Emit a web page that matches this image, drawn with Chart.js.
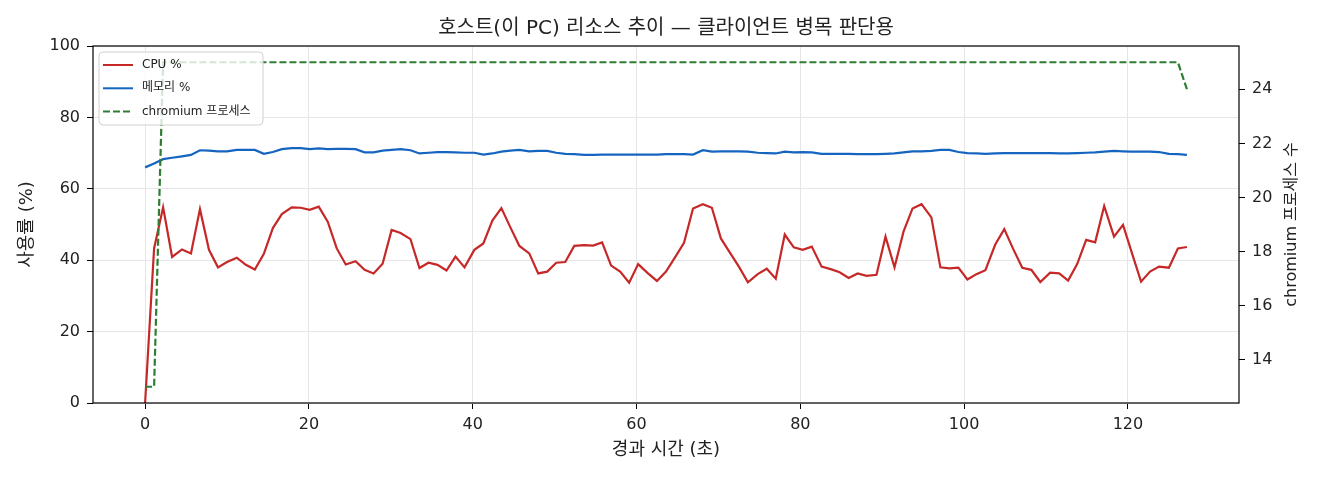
<!DOCTYPE html>
<html lang="ko">
<head>
<meta charset="utf-8">
<title>호스트 리소스 추이</title>
<script src="https://cdn.jsdelivr.net/npm/chart.js@4.4.1/dist/chart.umd.min.js"></script>
<style>
  html, body { margin: 0; padding: 0; background: #fff; }
  #wrap { width: 1320px; height: 480px; }
</style>
</head>
<body>
<div id="wrap"><canvas id="chart" width="1320" height="480"></canvas></div>
<script>
// ─────────────────────────────────────────────
//  DATA
// ─────────────────────────────────────────────

const titleText  = '호스트(이 PC) 리소스 추이 — 클라이언트 병목 판단용';
const xTitle     = '경과 시간 (초)';
const yTitle     = '사용률 (%)';
const y1Title    = 'chromium 프로세스 수';
const seriesNames = ['CPU %', '메모리 %', 'chromium 프로세스'];

const xTicks  = [0, 20, 40, 60, 80, 100, 120];
const yTicks  = [0, 20, 40, 60, 80, 100];
const y1Ticks = [14, 16, 18, 20, 22, 24];

// elapsed seconds for every sample
const timeSec = [
  0, 1.1, 2.2, 3.3, 4.5, 5.6, 6.7, 7.8, 8.9, 10.0,
  11.2, 12.3, 13.4, 14.5, 15.6, 16.7, 17.9, 19.0, 20.1, 21.2,
  22.3, 23.4, 24.5, 25.7, 26.8, 27.9, 29.0, 30.1, 31.2, 32.4,
  33.5, 34.6, 35.7, 36.8, 37.9, 39.0, 40.2, 41.3, 42.4, 43.5,
  44.6, 45.7, 46.9, 48.0, 49.1, 50.2, 51.3, 52.4, 53.6, 54.7,
  55.8, 56.9, 58.0, 59.1, 60.2, 61.4, 62.5, 63.6, 64.7, 65.8,
  66.9, 68.1, 69.2, 70.3, 71.4, 72.5, 73.6, 74.8, 75.9, 77.0,
  78.1, 79.2, 80.3, 81.4, 82.6, 83.7, 84.8, 85.9, 87.0, 88.1,
  89.3, 90.4, 91.5, 92.6, 93.7, 94.8, 96.0, 97.1, 98.2, 99.3,
  100.4, 101.5, 102.6, 103.8, 104.9, 106.0, 107.1, 108.2, 109.3, 110.5,
  111.6, 112.7, 113.8, 114.9, 116.0, 117.1, 118.3, 119.4, 120.5, 121.6,
  122.7, 123.8, 125.0, 126.1, 127.2
];

const cpuPct = [
  0, 43.3, 54.8, 40.9, 43.0, 41.9, 54.3, 42.9, 38.0, 39.5,
  40.7, 38.7, 37.4, 41.8, 49.0, 52.9, 54.8, 54.7, 54.1, 55.0,
  50.8, 43.3, 38.8, 39.7, 37.3, 36.3, 39.0, 48.5, 47.6, 45.9,
  37.8, 39.3, 38.7, 37.1, 41.0, 38.0, 42.9, 44.7, 51.1, 54.6,
  49.2, 44.0, 41.9, 36.3, 36.8, 39.3, 39.5, 44.0, 44.2, 44.1,
  45.0, 38.5, 36.8, 33.7, 38.9, 36.3, 34.2, 36.8, 40.8, 44.9,
  54.5, 55.7, 54.7, 46.1, 42.1, 38.2, 33.8, 36.1, 37.6, 34.8,
  47.2, 43.6, 42.9, 43.8, 38.2, 37.5, 36.6, 35.0, 36.3, 35.6,
  35.9, 46.6, 38.0, 48.0, 54.5, 55.7, 52.0, 38.0, 37.7, 37.9,
  34.6, 36.1, 37.2, 44.4, 48.7, 43.1, 37.9, 37.3, 33.9, 36.5,
  36.3, 34.3, 38.9, 45.7, 45.0, 55.2, 46.6, 49.9, 41.9, 34.0,
  36.8, 38.2, 37.9, 43.3, 43.7
];

const memPct = [
  66.0, 67.1, 68.3, 68.7, 69.1, 69.5, 70.8, 70.7, 70.5, 70.5,
  70.9, 70.9, 70.9, 69.8, 70.3, 71.1, 71.4, 71.4, 71.1, 71.3,
  71.1, 71.2, 71.2, 71.1, 70.2, 70.2, 70.7, 70.9, 71.1, 70.8,
  69.9, 70.1, 70.3, 70.3, 70.2, 70.1, 70.1, 69.6, 69.9, 70.4,
  70.7, 70.9, 70.5, 70.6, 70.6, 70.1, 69.8, 69.7, 69.5, 69.5,
  69.6, 69.6, 69.6, 69.6, 69.6, 69.6, 69.6, 69.7, 69.7, 69.7,
  69.6, 70.8, 70.4, 70.5, 70.5, 70.5, 70.4, 70.1, 70.0, 69.9,
  70.4, 70.2, 70.3, 70.2, 69.8, 69.8, 69.8, 69.8, 69.7, 69.7,
  69.7, 69.8, 69.9, 70.2, 70.5, 70.5, 70.6, 70.9, 70.9, 70.3,
  70.0, 69.9, 69.8, 69.9, 70.0, 70.0, 70.0, 70.0, 70.0, 70.0,
  69.9, 69.9, 70.0, 70.1, 70.2, 70.4, 70.6, 70.5, 70.4, 70.4,
  70.4, 70.3, 69.8, 69.7, 69.5
];

const chromiumProc = [
  13, 13, 25, 25, 25, 25, 25, 25, 25, 25,
  25, 25, 25, 25, 25, 25, 25, 25, 25, 25,
  25, 25, 25, 25, 25, 25, 25, 25, 25, 25,
  25, 25, 25, 25, 25, 25, 25, 25, 25, 25,
  25, 25, 25, 25, 25, 25, 25, 25, 25, 25,
  25, 25, 25, 25, 25, 25, 25, 25, 25, 25,
  25, 25, 25, 25, 25, 25, 25, 25, 25, 25,
  25, 25, 25, 25, 25, 25, 25, 25, 25, 25,
  25, 25, 25, 25, 25, 25, 25, 25, 25, 25,
  25, 25, 25, 25, 25, 25, 25, 25, 25, 25,
  25, 25, 25, 25, 25, 25, 25, 25, 25, 25,
  25, 25, 25, 25, 24
];

// ─────────────────────────────────────────────
//  STYLE
// ─────────────────────────────────────────────

const FONT     = '"DejaVu Sans", "Noto Sans CJK KR", sans-serif';
const INK      = '#222';
const C_CPU    = '#c62828';
const C_MEM    = '#1565c0';
const C_PROC   = '#2e7d32';
const GRID     = '#e6e6e6';

const pts = arr => timeSec.map((t, i) => ({ x: t, y: arr[i] }));

// fixed plot box like the matplotlib figure
const BOX = { left: 93, right: 1239, top: 46, bottom: 403 };

const framePlugin = {
  id: 'frame',
  afterDatasetsDraw(chart) {
    const { ctx, chartArea: a } = chart;
    ctx.save();
    ctx.strokeStyle = '#000';
    ctx.lineWidth = 1.2;
    ctx.strokeRect(a.left, a.top, a.right - a.left, a.bottom - a.top);
    ctx.restore();
  }
};

const textPlugin = {
  id: 'texts',
  afterDraw(chart) {
    const { ctx, chartArea: a } = chart;
    const cx = (a.left + a.right) / 2;
    const cy = (a.top + a.bottom) / 2;
    ctx.save();
    ctx.fillStyle = INK;
    ctx.textAlign = 'center';
    ctx.textBaseline = 'middle';

    ctx.font = `20px ${FONT}`;
    ctx.fillText(titleText, cx, 29);

    ctx.font = `18px ${FONT}`;
    ctx.fillText(xTitle, cx, 450);

    ctx.save();
    ctx.translate(27, cy);
    ctx.rotate(-Math.PI / 2);
    ctx.fillText(yTitle, 0, 0);
    ctx.restore();

    ctx.font = `16px ${FONT}`;
    ctx.save();
    ctx.translate(1292, cy);
    ctx.rotate(-Math.PI / 2);
    ctx.fillText(y1Title, 0, 0);
    ctx.restore();

    // legend (upper left, semi transparent like matplotlib)
    const lx = a.left + 6, ly = a.top + 6, lw = 164, lh = 73;
    ctx.beginPath();
    ctx.roundRect(lx, ly, lw, lh, 4);
    ctx.fillStyle = 'rgba(255,255,255,0.8)';
    ctx.fill();
    ctx.strokeStyle = '#d0d0d0';
    ctx.lineWidth = 1;
    ctx.stroke();

    const colors = [C_CPU, C_MEM, C_PROC];
    ctx.font = `12px ${FONT}`;
    ctx.textAlign = 'left';
    seriesNames.forEach((name, i) => {
      const y = ly + 13 + i * 23.3;
      ctx.beginPath();
      ctx.setLineDash(i === 2 ? [7, 3] : []);
      ctx.strokeStyle = colors[i];
      ctx.lineWidth = 2;
      ctx.moveTo(lx + 4, y);
      ctx.lineTo(lx + 34, y);
      ctx.stroke();
      ctx.setLineDash([]);
      ctx.fillStyle = INK;
      ctx.fillText(name, lx + 43, y);
    });
    ctx.restore();
  }
};

const fixedTicks = vals => scale => { scale.ticks = vals.map(v => ({ value: v })); };

new Chart(document.getElementById('chart').getContext('2d'), {
  type: 'line',
  data: {
    datasets: [
      { label: seriesNames[0], data: pts(cpuPct), yAxisID: 'y', borderColor: C_CPU,
        borderWidth: 2.2, pointRadius: 0, tension: 0, order: 3 },
      { label: seriesNames[1], data: pts(memPct), yAxisID: 'y', borderColor: C_MEM,
        borderWidth: 2.2, pointRadius: 0, tension: 0, order: 2 },
      { label: seriesNames[2], data: pts(chromiumProc), yAxisID: 'y1', borderColor: C_PROC,
        borderWidth: 2.2, borderDash: [7, 3], pointRadius: 0, tension: 0, order: 1 }
    ]
  },
  options: {
    responsive: false,
    animation: false,
    devicePixelRatio: 1,
    layout: { padding: { top: BOX.top, left: 0, right: 0, bottom: 0 } },
    plugins: { legend: { display: false }, title: { display: false }, tooltip: { enabled: false } },
    scales: {
      x: {
        type: 'linear', min: -6.36, max: 133.56,
        afterBuildTicks: fixedTicks(xTicks),
        afterFit: s => { s.height = 480 - BOX.bottom; },
        ticks: { color: INK, font: { family: FONT, size: 16 }, padding: 6, maxRotation: 0 },
        grid: { color: GRID, tickColor: '#000', tickLength: 6, lineWidth: 1 },
        border: { display: false }
      },
      y: {
        type: 'linear', position: 'left', min: 0, max: 100,
        afterBuildTicks: fixedTicks(yTicks),
        afterFit: s => { s.width = BOX.left; },
        ticks: { color: INK, font: { family: FONT, size: 16 }, padding: 7 },
        grid: { color: GRID, tickColor: '#000', tickLength: 6, lineWidth: 1 },
        border: { display: false }
      },
      y1: {
        type: 'linear', position: 'right', min: 12.4, max: 25.6,
        afterBuildTicks: fixedTicks(y1Ticks),
        afterFit: s => { s.width = 1320 - BOX.right; },
        ticks: { color: INK, font: { family: FONT, size: 16 }, padding: 7 },
        grid: { drawOnChartArea: false, tickColor: '#000', tickLength: 6 },
        border: { display: false }
      }
    }
  },
  plugins: [framePlugin, textPlugin]
});
</script>
</body>
</html>
